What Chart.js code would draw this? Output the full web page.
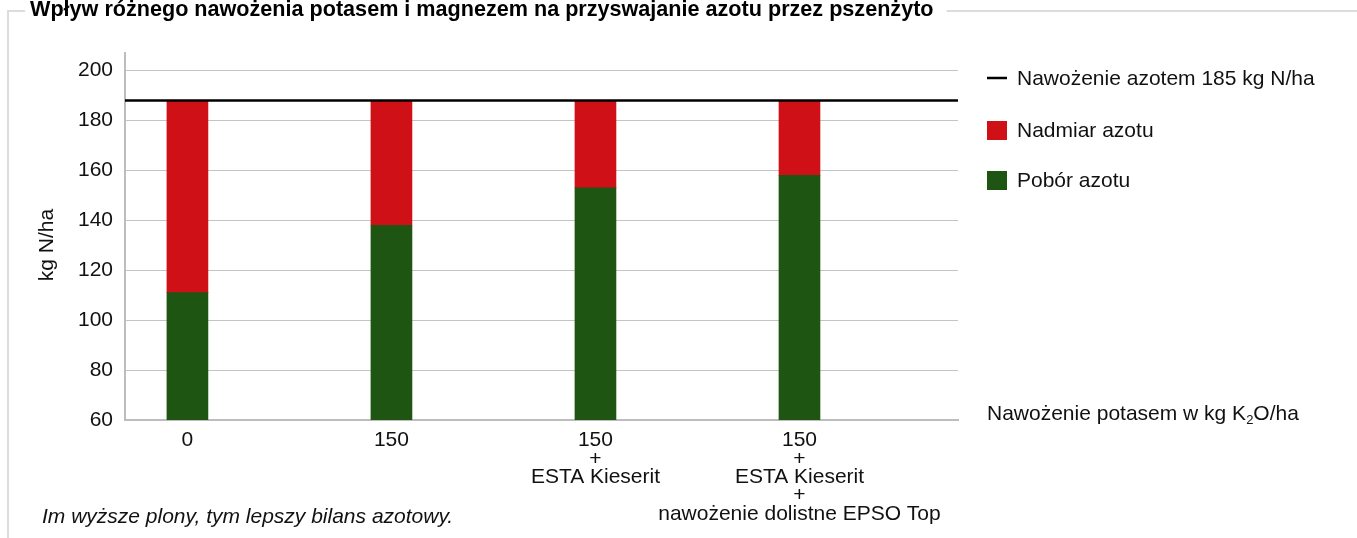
<!DOCTYPE html>
<html><head><meta charset="utf-8">
<script src="https://cdn.jsdelivr.net/npm/chart.js@4"></script>
<style>html,body{margin:0;background:#fff}#wrap{width:1357px;height:538px;position:relative}</style>
</head><body><div id="wrap"><canvas id="c"></canvas></div>
<script>
// ---- data ----
const categories = [
  ['0'],
  ['150'],
  ['150', '+', 'ESTA Kieserit'],
  ['150', '+', 'ESTA Kieserit', '+', 'nawożenie dolistne EPSO Top']
];
const uptake = [111, 138, 153, 158];     // Pobór azotu
const excess = [77, 50, 35, 30];         // Nadmiar azotu
const nLevel = [188, 188];               // Nawożenie azotem line level
const yTicks = [60, 80, 100, 120, 140, 160, 180, 200];
const seriesNames = ['Nawożenie azotem 185 kg N/ha', 'Nadmiar azotu', 'Pobór azotu'];
const titleText = 'Wpływ różnego nawożenia potasem i magnezem na przyswajanie azotu przez pszenżyto';
const yTitle = 'kg N/ha';
const xTitleParts = ['Nawożenie potasem w kg K', '2', 'O/ha'];
const footnote = 'Im wyższe plony, tym lepszy bilans azotowy.';

const RED = '#cf1016', GREEN = '#1f5513', FONT = '"Liberation Sans", Arial, Helvetica, sans-serif';
const X_MIN = -0.306, X_MAX = 3.777;

const decor = {
  id: 'decor',
  afterDraw(chart) {
    const ctx = chart.ctx;
    ctx.save();
    // title
    ctx.fillStyle = '#000';
    ctx.font = 'bold 21.6px ' + FONT;
    ctx.textAlign = 'left'; ctx.textBaseline = 'alphabetic';
    ctx.fillText(titleText, 30, 16);
    const tw = ctx.measureText(titleText).width;
    // frame
    ctx.strokeStyle = '#dcdcdc'; ctx.lineWidth = 2;
    ctx.beginPath();
    ctx.moveTo(8, 538); ctx.lineTo(8, 11); ctx.lineTo(25, 11);
    ctx.moveTo(30 + tw + 13, 11); ctx.lineTo(1357, 11);
    ctx.stroke();
    // y title
    ctx.fillStyle = '#111';
    ctx.font = '21px ' + FONT;
    ctx.save();
    ctx.translate(47, 245); ctx.rotate(-Math.PI / 2);
    ctx.textAlign = 'center'; ctx.textBaseline = 'middle';
    ctx.fillText(yTitle, 0, 0);
    ctx.restore();
    // x title with subscript
    let x = 987;
    ctx.textAlign = 'left'; ctx.textBaseline = 'alphabetic';
    ctx.fillText(xTitleParts[0], x, 420); x += ctx.measureText(xTitleParts[0]).width;
    ctx.font = '13px ' + FONT;
    ctx.fillText(xTitleParts[1], x, 424); x += ctx.measureText(xTitleParts[1]).width;
    ctx.font = '21px ' + FONT;
    ctx.fillText(xTitleParts[2], x, 420);
    // legend
    ctx.strokeStyle = '#000'; ctx.lineWidth = 2.5;
    ctx.beginPath(); ctx.moveTo(987, 78); ctx.lineTo(1007, 78); ctx.stroke();
    ctx.fillText(seriesNames[0], 1017, 85);
    ctx.fillStyle = RED; ctx.fillRect(987, 121, 20, 19);
    ctx.fillStyle = '#111'; ctx.fillText(seriesNames[1], 1017, 137);
    ctx.fillStyle = GREEN; ctx.fillRect(987, 171, 20, 19);
    ctx.fillStyle = '#111'; ctx.fillText(seriesNames[2], 1017, 187);
    // footnote
    ctx.font = 'italic 21px ' + FONT;
    ctx.fillText(footnote, 42, 523);
    ctx.restore();
  }
};

new Chart(document.getElementById('c'), {
  data: {
    datasets: [
      {
        type: 'line', label: seriesNames[0], order: 0, stack: 'ref',
        data: [{x: X_MIN, y: nLevel[0]}, {x: X_MAX, y: nLevel[1]}],
        borderColor: '#000', borderWidth: 2.5, pointRadius: 0, fill: false
      },
      {
        type: 'bar', label: seriesNames[2], order: 1, stack: 'n',
        data: uptake.map((v, i) => ({x: i, y: v})),
        backgroundColor: GREEN, barThickness: 41
      },
      {
        type: 'bar', label: seriesNames[1], order: 1, stack: 'n',
        data: excess.map((v, i) => ({x: i, y: v})),
        backgroundColor: RED, barThickness: 41
      }
    ]
  },
  options: {
    responsive: true, maintainAspectRatio: false, animation: false,
    layout: { padding: { top: 53, right: 399, left: 0, bottom: 0 } },
    plugins: { legend: { display: false }, tooltip: { enabled: false } },
    scales: {
      x: {
        type: 'linear', stacked: true, min: X_MIN, max: X_MAX, offset: false,
        afterBuildTicks: s => { s.ticks = categories.map((_, i) => ({ value: i })); },
        afterFit: s => { s.height = 118; },
        ticks: {
          callback: v => categories[v],
          color: '#111', padding: 11, maxRotation: 0, autoSkip: false,
          font: { family: FONT, size: 21, lineHeight: 0.88 }
        },
        grid: { display: false, drawTicks: false, offset: false },
        border: { display: true, color: '#bdbdbd', width: 2 }
      },
      y: {
        stacked: true, min: 60, max: 207,
        afterBuildTicks: s => { s.ticks = yTicks.map(v => ({ value: v })); },
        afterFit: s => { s.width = 125; },
        ticks: { color: '#111', padding: 12, font: { family: FONT, size: 21 } },
        grid: { color: '#c4c4c4', lineWidth: 1, drawTicks: false },
        border: { display: true, color: '#bdbdbd', width: 2 }
      }
    }
  },
  plugins: [decor]
});
</script>
</body></html>
